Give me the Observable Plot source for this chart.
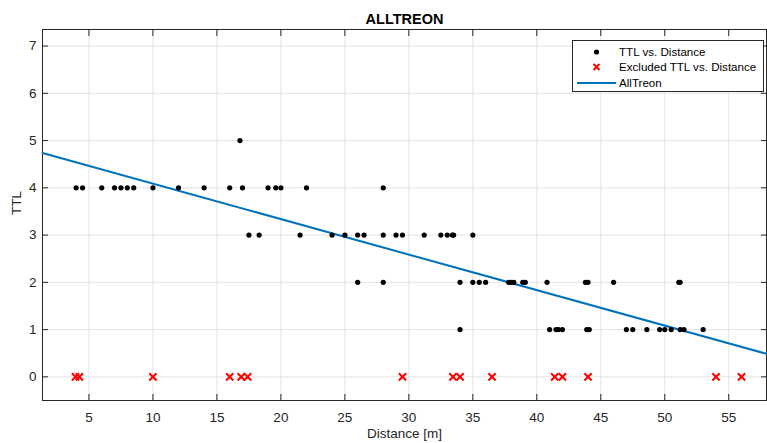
<!DOCTYPE html>
<html>
<head>
<meta charset="utf-8">
<script src="https://cdn.jsdelivr.net/npm/d3@7"></script>
<script src="https://cdn.jsdelivr.net/npm/@observablehq/plot@0.6"></script>
<style>
  html, body { margin: 0; padding: 0; background: #fff; }
  #wrap { position: relative; width: 767px; height: 443px; font-family: "Liberation Sans", Arial, Helvetica, sans-serif; }
  #legend { position: absolute; left: 572px; top: 40px; width: 190px; height: 50px; border: 1px solid #262626; background: #fff; font-size: 11.6px; color: #000; }
  .li { position: absolute; left: 0; height: 16px; width: 190px; }
  .li span { position: absolute; left: 46px; top: 0; line-height: 16px; white-space: nowrap; }
  .li svg { position: absolute; left: 0; top: 0; }
</style>
</head>
<body>
<div id="wrap"></div>
<script>
// ---- data ----
const title = "ALLTREON";
const xLabel = "Distance [m]";
const yLabel = "TTL";
const seriesNames = ["TTL vs. Distance", "Excluded TTL vs. Distance", "AllTreon"];

const ttl5 = [16.8];
const ttl4 = [4.0, 4.5, 6.0, 7.0, 7.5, 8.0, 8.5, 10.0, 12.0, 14.0, 16.0, 17.0, 19.0, 19.6, 20.0, 22.0, 28.0];
const ttl3 = [17.5, 18.3, 21.5, 24.0, 25.0, 26.0, 26.5, 28.0, 29.0, 29.5, 31.2, 32.5, 33.0, 33.4, 33.5, 35.0];
const ttl2 = [26.0, 28.0, 34.0, 35.0, 35.5, 36.0, 37.8, 38.0, 38.2, 38.9, 39.1, 40.8, 43.8, 44.0, 46.0, 51.1, 51.2];
const ttl1 = [34.0, 41.0, 41.5, 41.7, 42.0, 43.9, 44.1, 47.0, 47.5, 48.6, 49.6, 50.0, 50.5, 51.2, 51.5, 53.0];
const excludedDist = [3.95, 4.25, 10.0, 16.0, 16.9, 17.4, 29.5, 33.45, 34.0, 36.5, 41.4, 42.0, 44.0, 54.0, 56.0];
const excludedTTL = 0;

const fitSlope = -0.0751;
const fitIntercept = 4.84;

const xDomain = [1.37, 57.95];
const yDomain = [-0.5, 7.35];
const xTicks = [5, 10, 15, 20, 25, 30, 35, 40, 45, 50, 55];
const yTicks = [0, 1, 2, 3, 4, 5, 6, 7];

// ---- build tables ----
const included = [
  ...ttl5.map(d => ({x: d, y: 5})),
  ...ttl4.map(d => ({x: d, y: 4})),
  ...ttl3.map(d => ({x: d, y: 3})),
  ...ttl2.map(d => ({x: d, y: 2})),
  ...ttl1.map(d => ({x: d, y: 1}))
];
const excluded = excludedDist.map(d => ({x: d, y: excludedTTL}));
const fitLine = xDomain.map(x => ({x, y: fitIntercept + fitSlope * x}));

const axisColor = "#262626";
const gridColor = "#e3e3e3";

const chart = Plot.plot({
  width: 767,
  height: 443,
  marginLeft: 42,
  marginTop: 29,
  marginRight: 1,
  marginBottom: 43,
  style: { fontFamily: '"Liberation Sans", Arial, Helvetica, sans-serif', fontSize: "13px", color: axisColor, background: "#fff" },
  x: { domain: xDomain, ticks: xTicks, label: null },
  y: { domain: yDomain, ticks: yTicks, label: null },
  marks: [
    Plot.gridX(xTicks, { stroke: gridColor, strokeOpacity: 1 }),
    Plot.gridY(yTicks, { stroke: gridColor, strokeOpacity: 1 }),
    // inward ticks
    Plot.axisX(xTicks, { anchor: "bottom", tickSize: -6, tickPadding: 18, stroke: axisColor, fill: axisColor, fontSize: 13.5, label: null }),
    Plot.axisX(xTicks, { anchor: "top", tickSize: -6, tickFormat: () => "", stroke: axisColor, label: null }),
    Plot.axisY(yTicks, { anchor: "left", tickSize: -6, tickPadding: 12, stroke: axisColor, fill: axisColor, fontSize: 13.5, label: null }),
    Plot.axisY(yTicks, { anchor: "right", tickSize: -6, tickFormat: () => "", stroke: axisColor, label: null }),
    Plot.frame({ stroke: axisColor, strokeWidth: 1 }),
    Plot.line(fitLine, { x: "x", y: "y", stroke: "#0072BD", strokeWidth: 2 }),
    Plot.dot(included, { x: "x", y: "y", r: 2.6, fill: "#000", stroke: null }),
    Plot.dot(excluded, { x: "x", y: "y", symbol: "times", r: 3.4, stroke: "#ff0000", strokeWidth: 2 }),
    Plot.text([title], { frameAnchor: "top", dy: -16, fontWeight: "bold", fontSize: 14.5, fill: "#000" }),
    Plot.text([xLabel], { frameAnchor: "bottom", dy: 37, fontSize: 13.5, fill: axisColor }),
    Plot.text([yLabel], { frameAnchor: "left", dx: -26, rotate: -90, fontSize: 13.5, fill: axisColor })
  ]
});

const wrap = document.getElementById("wrap");
wrap.appendChild(chart);

// legend
const legend = document.createElement("div");
legend.id = "legend";
const items = [
  { name: seriesNames[0], draw: '<circle cx="23.5" cy="8" r="2.6" fill="#000"/>' },
  { name: seriesNames[1], draw: '<path d="M20.5,5 L26.5,11 M26.5,5 L20.5,11" stroke="#ff0000" stroke-width="2"/>' },
  { name: seriesNames[2], draw: '<line x1="4" y1="8" x2="43" y2="8" stroke="#0072BD" stroke-width="2"/>' }
];
items.forEach((it, i) => {
  const row = document.createElement("div");
  row.className = "li";
  row.style.top = (2.5 + i * 15.7) + "px";
  row.innerHTML = `<svg width="46" height="16">${it.draw}</svg><span>${it.name}</span>`;
  legend.appendChild(row);
});
wrap.appendChild(legend);
</script>
</body>
</html>
